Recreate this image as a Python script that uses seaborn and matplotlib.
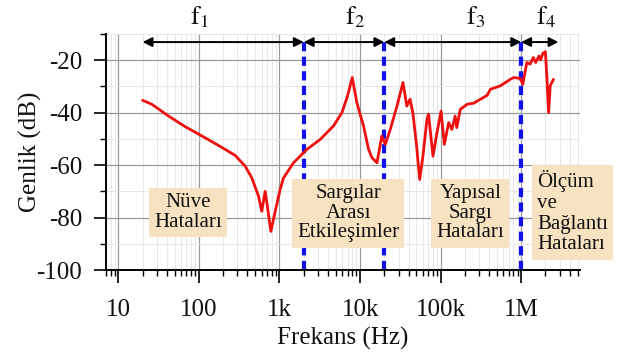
import numpy as np
import pandas as pd
import matplotlib
matplotlib.use("Agg")
import matplotlib.pyplot as plt
from matplotlib.ticker import FixedLocator, LogLocator, MultipleLocator, NullFormatter
import seaborn as sns

# Frequency response: frequency (Hz) and magnitude (dB)
freq_hz = [20, 26, 42, 68, 109, 175, 282, 375, 454, 550, 603, 664, 708, 782,
           885, 1019, 1122, 1493, 2188, 3206, 4677, 5957, 6998, 8000, 9120,
           11041, 12764, 14060, 16218, 18621, 20560, 23714, 28708, 34119,
           38019, 41687, 45186, 49888, 54954, 60256, 67608, 70795, 80353,
           90157, 101158, 111173, 125893, 138038, 151356, 158489, 175792,
           213796, 257040, 377572, 414000, 549541, 732825, 807235, 977237,
           1047129, 1122018, 1174898, 1288250, 1412538, 1513561, 1659587,
           1737801, 1862087, 1995262, 2089296, 2187762, 2290868, 2511886]
gain_db = [-35.3, -36.8, -41.3, -45.4, -48.9, -52.5, -56.3, -60.4, -64.9,
           -71.9, -77.6, -70.0, -75.7, -85.3, -77.6, -69.3, -64.9, -59.1,
           -54.0, -50.2, -45.1, -40.0, -33.6, -26.6, -36.2, -45.1, -54.0,
           -57.2, -59.1, -48.9, -52.1, -46.4, -37.5, -28.5, -37.5, -34.9,
           -40.0, -51.5, -65.5, -56.6, -42.6, -40.6, -56.6, -47.6, -39.4,
           -52.1, -43.8, -46.4, -41.3, -45.7, -38.7, -36.8, -36.4, -33.4,
           -31.1, -29.8, -27.3, -26.6, -27.0, -29.2, -24.1, -20.9, -21.5,
           -19.0, -20.9, -18.4, -19.9, -17.3, -16.8, -27.3, -40.0, -29.8,
           -27.3]

# Axis ticks
x_ticks = [10, 100, 1e3, 1e4, 1e5, 1e6]
x_tick_labels = ["10", "100", "1k", "10k", "100k", "1M"]
y_ticks = [-100, -80, -60, -40, -20]

# Frequency band boundaries and band names
band_edges = [20, 2e3, 2e4, 1e6, 2.9e6]
band_boundaries = [2e3, 2e4, 1e6]
band_names = [r"$\mathrm{f}_1$", r"$\mathrm{f}_2$", r"$\mathrm{f}_3$", r"$\mathrm{f}_4$"]
band_name_x = [100, 8.7e3, 2.7e5, 2.05e6]

# Fault-type annotations
fault_labels = ["Nüve\nHataları", "Sargılar\nArası\nEtkileşimler",
                "Yapısal\nSargı\nHataları", "Ölçüm\nve\nBağlantı\nHataları"]
fault_x = [73, 7.1e3, 2.34e5, 1.58e6]
fault_y = [-78.1, -78.3, -78.3, -78.0]
fault_ha = ["center", "center", "center", "left"]

sns.set_theme(style="ticks")
plt.rcParams["font.family"] = ["Liberation Serif", "DejaVu Serif"]
plt.rcParams["mathtext.fontset"] = "stix"
plt.rcParams["axes.unicode_minus"] = False

fig = plt.figure(figsize=(6.3, 3.61), dpi=100)
ax = fig.add_axes([0.168, 0.252, 0.921 - 0.168, 0.906 - 0.252])

df = pd.DataFrame({"Frekans": freq_hz, "Genlik": gain_db})
sns.lineplot(data=df, x="Frekans", y="Genlik", ax=ax, color="#ee0f0f",
             linewidth=2.0, zorder=3)

ax.set_xscale("log")
ax.set_xlim(7, 5.4e6)
ax.set_ylim(-100, -10)

ax.xaxis.set_major_locator(FixedLocator(x_ticks))
ax.set_xticklabels(x_tick_labels)
ax.xaxis.set_minor_locator(LogLocator(base=10, subs=np.arange(2, 10)))
ax.xaxis.set_minor_formatter(NullFormatter())
ax.yaxis.set_major_locator(FixedLocator(y_ticks))
ax.yaxis.set_minor_locator(MultipleLocator(10))

ax.grid(which="major", color="#9a9a9a", linewidth=0.9, zorder=0)
ax.grid(which="minor", color="#e4e4e4", linewidth=0.6, zorder=0)
ax.set_axisbelow(True)

for side in ("top", "right"):
    ax.spines[side].set_visible(False)
for side in ("left", "bottom"):
    ax.spines[side].set_color("black")
    ax.spines[side].set_linewidth(1.4)

ax.tick_params(which="major", length=9, width=1.2, color="black",
               labelsize=18, labelcolor="#111111")
ax.tick_params(axis="x", which="major", pad=12)
ax.tick_params(axis="y", which="major", pad=8)
ax.tick_params(which="minor", length=4.5, width=1.0, color="black")

ax.set_xlabel("Frekans (Hz)", fontsize=18, color="#111111", labelpad=4)
ax.set_ylabel("Genlik (dB)", fontsize=18, color="#111111", labelpad=-4)

# Band boundaries
for xb in band_boundaries:
    ax.plot([xb, xb], [-100, -13.1], color="#1010e8", linewidth=3,
            dashes=(2.2, 1.3), zorder=2, clip_on=False)

# Band arrows
for x0, x1 in zip(band_edges[:-1], band_edges[1:]):
    ax.annotate("", xy=(x1, -13.1), xytext=(x0, -13.1),
                arrowprops=dict(arrowstyle="<|-|>", color="black", lw=1.4,
                                mutation_scale=14, shrinkA=0, shrinkB=0),
                annotation_clip=False, zorder=4)

for name, xn in zip(band_names, band_name_x):
    ax.text(xn, -6.2, name, fontsize=19, ha="center", va="baseline",
            color="#111111", clip_on=False)

for lab, xf, yf, ha in zip(fault_labels, fault_x, fault_y, fault_ha):
    ls = 1.12 if ha == "left" else 1.05
    ax.text(xf, yf, lab, fontsize=15, ha=ha, va="center", multialignment=ha,
            linespacing=ls, color="#111111", zorder=5, clip_on=False,
            bbox=dict(boxstyle="square,pad=0.25", fc="#f7e3c1", ec="none"))

fig.savefig("out.png", dpi=100)
